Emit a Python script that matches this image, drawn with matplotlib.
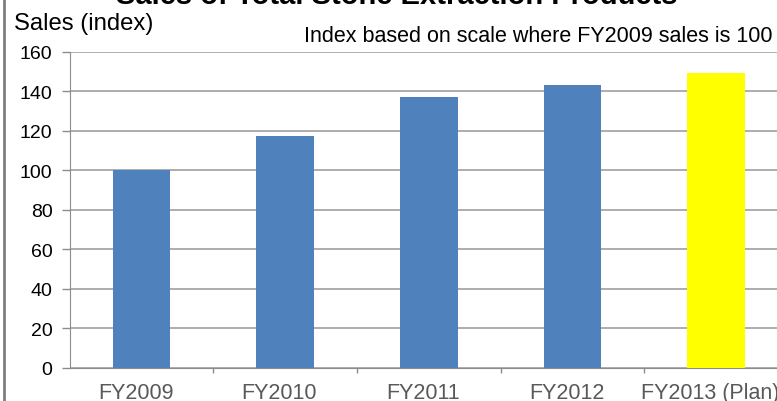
import matplotlib
matplotlib.use('Agg')
import matplotlib.pyplot as plt
from matplotlib.lines import Line2D

# Datos del grafico
years = ['FY2009', 'FY2010', 'FY2011', 'FY2012', 'FY2013 (Plan)']
sales_index = [100, 117, 137, 143, 149]
bar_colors = ['#4f81bd', '#4f81bd', '#4f81bd', '#4f81bd', '#ffff00']
y_ticks = [0, 20, 40, 60, 80, 100, 120, 140, 160]

plt.rcParams['font.family'] = ['Liberation Sans', 'DejaVu Sans']

fig = plt.figure(figsize=(7.77, 4.02), dpi=100)
ax = fig.add_axes([0.0897, 0.0833, 0.9245, 0.786])

x = range(len(years))
ax.bar(x, sales_index, width=0.4, color=bar_colors, zorder=3)

ax.set_xlim(-0.5, 4.5)
ax.set_ylim(0, 160)
ax.set_yticks(y_ticks)
ax.set_yticklabels([str(v) for v in y_ticks], fontsize=14)
ax.tick_params(axis='y', length=5.8, width=1, color='#8c8c8c', pad=6.5)

# Etiquetas de categorias centradas, ticks en los limites
ax.set_xticks([i + 0.5 for i in range(len(years))])
ax.set_xticklabels([])
ax.tick_params(axis='x', length=3.6, width=1, color='#8c8c8c')
for i, lab in enumerate(years):
    ax.text(i - 0.04, -7.5, lab, ha='center', va='top', fontsize=15.5,
            color='#595959', clip_on=False)

ax.grid(axis='y', color='#a0a0a0', linewidth=1.2, zorder=0)
for s in ['top', 'right']:
    ax.spines[s].set_visible(False)
ax.spines['left'].set_color('#8c8c8c')
ax.spines['bottom'].set_color('#8c8c8c')

fig.text(397 / 777, 1 - 4 / 402, 'Sales of Total Stone Extraction Products',
         ha='center', va='baseline', fontsize=21, fontweight='bold')
fig.text(14 / 777, 1 - 30 / 402, 'Sales (index)', ha='left', va='baseline',
         fontsize=17.2)
fig.text(773 / 777, 1 - 42 / 402, 'Index based on scale where FY2009 sales is 100',
         ha='right', va='baseline', fontsize=15.5)

# Borde izquierdo del grafico
fig.add_artist(Line2D([3.5 / 777, 3.5 / 777], [0, 1], color='#7f7f7f',
                      linewidth=2, transform=fig.transFigure))

plt.savefig('out.png', dpi=100)
